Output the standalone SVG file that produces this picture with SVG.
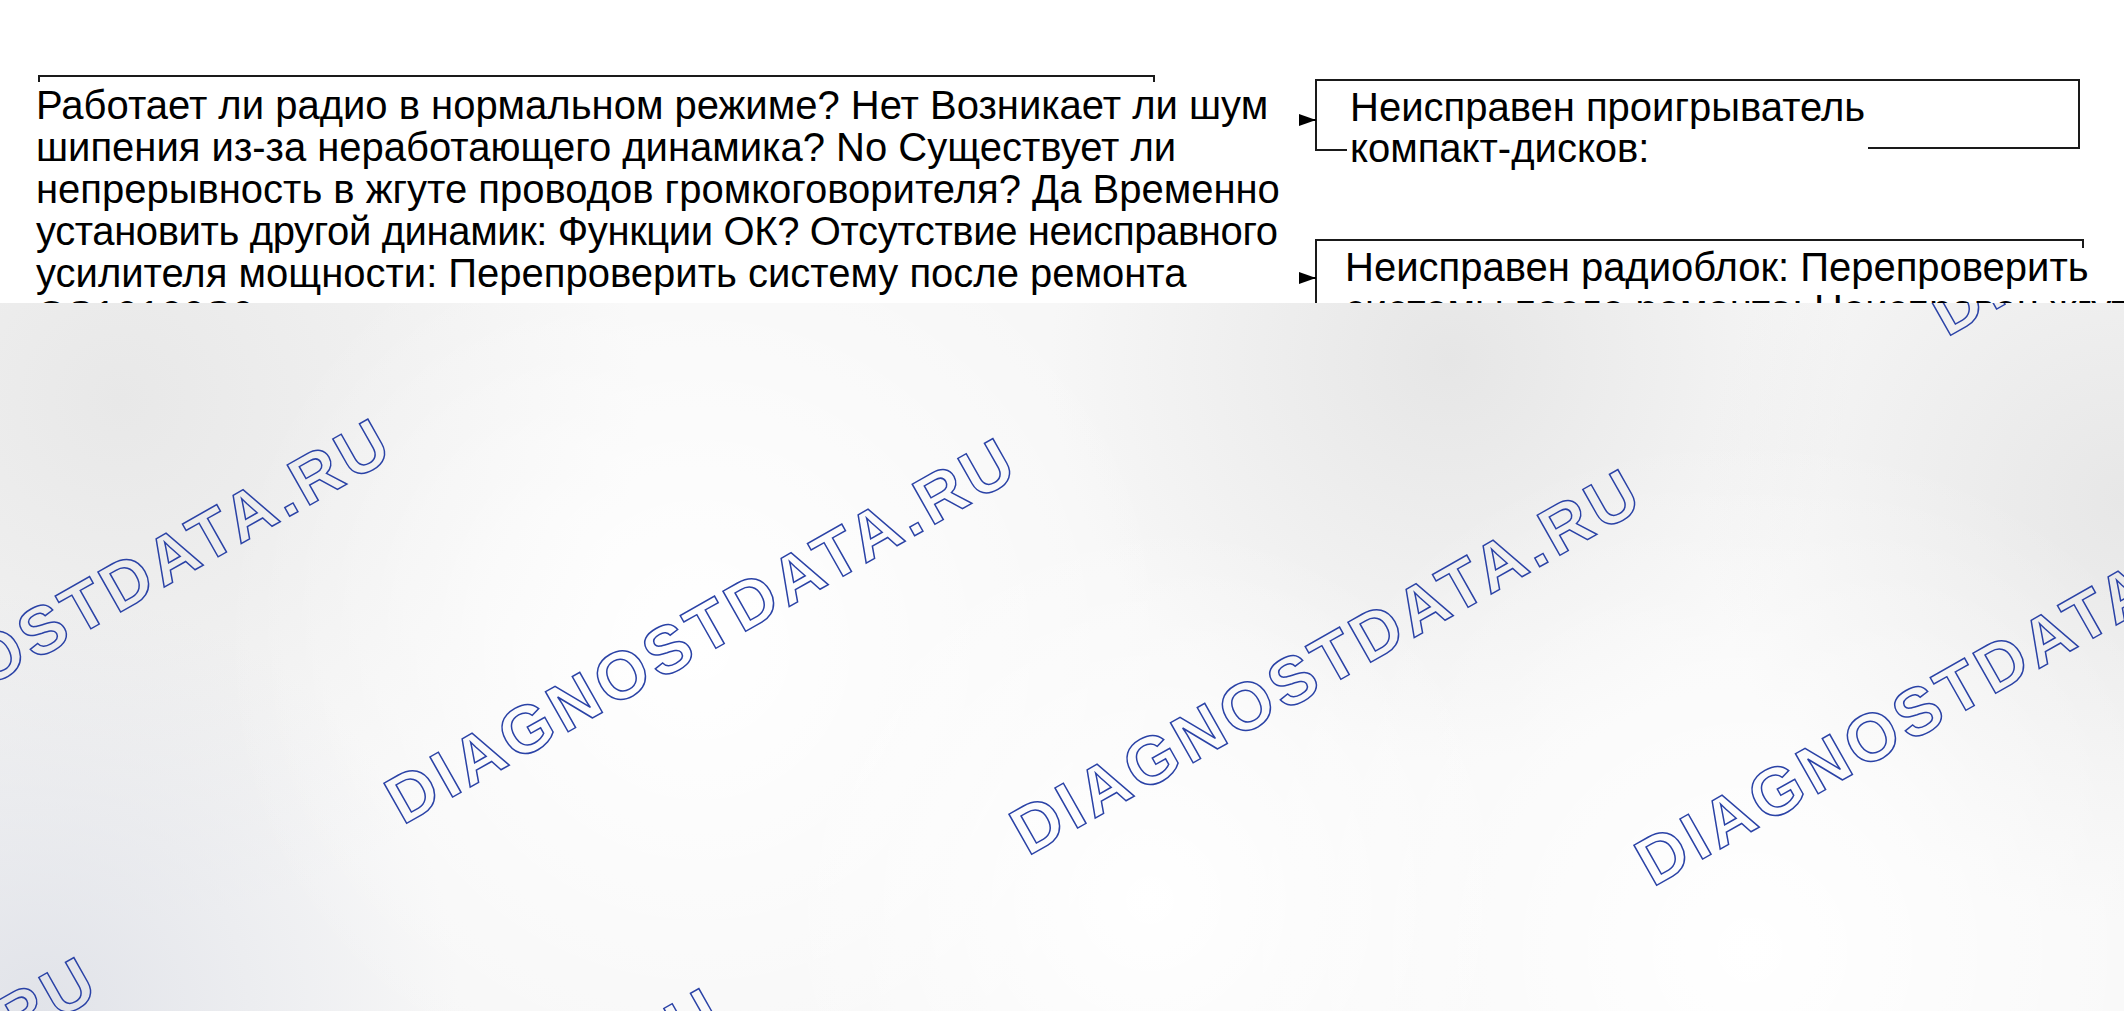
<svg xmlns="http://www.w3.org/2000/svg" width="2124" height="1011" viewBox="0 0 2124 1011">
<defs>
<style>
.t{font-family:"Liberation Sans",Arial,sans-serif;font-size:40px;fill:#000}
.wm{font-family:"Liberation Sans",Arial,sans-serif;font-weight:bold;font-size:67px;letter-spacing:4.5px;fill:none;stroke:#2a42a6;stroke-width:1.5}
.ln{stroke:#1a1a1a;stroke-width:2;fill:none}
</style>
<marker id="ah" markerUnits="userSpaceOnUse" markerWidth="18" markerHeight="14" refX="17" refY="7" orient="auto">
<path d="M0,1 L17,7 L0,13 Z" fill="#000"/>
</marker>
<clipPath id="topc"><rect x="0" y="0" width="2124" height="303"/></clipPath>
<clipPath id="botc"><rect x="0" y="303" width="2124" height="708"/></clipPath>
<radialGradient id="g1" gradientUnits="userSpaceOnUse" cx="120" cy="400" r="520"><stop offset="0" stop-color="#e8e8e8"/><stop offset="1" stop-color="#e8e8e8" stop-opacity="0"/></radialGradient>
<radialGradient id="g2" gradientUnits="userSpaceOnUse" cx="1450" cy="360" r="400"><stop offset="0" stop-color="#e6e6e6"/><stop offset="1" stop-color="#e6e6e6" stop-opacity="0"/></radialGradient>
<radialGradient id="g3" gradientUnits="userSpaceOnUse" cx="2124" cy="500" r="420"><stop offset="0" stop-color="#e7e7e7"/><stop offset="1" stop-color="#e7e7e7" stop-opacity="0"/></radialGradient>
<radialGradient id="g4" gradientUnits="userSpaceOnUse" cx="40" cy="1011" r="420"><stop offset="0" stop-color="#e1e3e9"/><stop offset="1" stop-color="#e1e3e9" stop-opacity="0"/></radialGradient>
<radialGradient id="w1" gradientUnits="userSpaceOnUse" cx="700" cy="650" r="480"><stop offset="0" stop-color="#ffffff"/><stop offset="1" stop-color="#ffffff" stop-opacity="0"/></radialGradient>
<radialGradient id="w2" gradientUnits="userSpaceOnUse" cx="1750" cy="950" r="520"><stop offset="0" stop-color="#ffffff"/><stop offset="1" stop-color="#ffffff" stop-opacity="0"/></radialGradient>
<radialGradient id="w3" gradientUnits="userSpaceOnUse" cx="1150" cy="900" r="380"><stop offset="0" stop-color="#ffffff"/><stop offset="1" stop-color="#ffffff" stop-opacity="0"/></radialGradient>
</defs>
<rect x="0" y="0" width="2124" height="1011" fill="#ffffff"/>
<g id="watermark-background" clip-path="url(#botc)">
<rect x="0" y="303" width="2124" height="708" fill="#f7f7f7"/>
<rect x="0" y="303" width="2124" height="708" fill="url(#g1)"/>
<rect x="0" y="303" width="2124" height="708" fill="url(#g2)"/>
<rect x="0" y="303" width="2124" height="708" fill="url(#g3)"/>
<rect x="0" y="303" width="2124" height="708" fill="url(#g4)"/>
<rect x="0" y="303" width="2124" height="708" fill="url(#w1)"/>
<rect x="0" y="303" width="2124" height="708" fill="url(#w2)"/>
<rect x="0" y="303" width="2124" height="708" fill="url(#w3)"/>
<text class="wm" transform="translate(-222.3,806) rotate(-29.5)">DIAGNOSTDATA.RU</text>
<text class="wm" transform="translate(402.7,825.4) rotate(-29.5)">DIAGNOSTDATA.RU</text>
<text class="wm" transform="translate(1027.7,856.4) rotate(-29.5)">DIAGNOSTDATA.RU</text>
<text class="wm" transform="translate(1652.7,887.4) rotate(-29.5)">DIAGNOSTDATA.RU</text>
<text class="wm" transform="translate(1946.7,337.4) rotate(-29.5)">DIAGNOSTDATA.RU</text>
<text class="wm" transform="translate(-516.3,1344.4) rotate(-29.5)">DIAGNOSTDATA.RU</text>
<text class="wm" transform="translate(108.7,1375.4) rotate(-29.5)">DIAGNOSTDATA.RU</text>
</g>
<g id="diagram" clip-path="url(#topc)">
<g id="node-question">
<path class="ln" d="M39,82 V76 H1154 V82"/>
<text class="t" x="36" y="119">Работает ли радио в нормальном режиме? Нет Возникает ли шум</text>
<text class="t" x="36" y="161">шипения из-за неработающего динамика? No Существует ли</text>
<text class="t" x="36" y="203">непрерывность в жгуте проводов громкоговорителя? Да Временно</text>
<text class="t" x="36" y="245" textLength="1242">установить другой динамик: Функции ОК? Отсутствие неисправного</text>
<text class="t" x="36" y="287">усилителя мощности: Перепроверить систему после ремонта</text>
<text class="t" x="36" y="329">OS10100S0</text>
</g>
<g id="node-cd-player">
<path class="ln" d="M1347,150 H1316 V80 H2079 V148 H1868"/>
<text class="t" x="1350" y="121">Неисправен проигрыватель</text>
<text class="t" x="1350" y="162">компакт-дисков:</text>
</g>
<g id="node-radio-unit">
<path class="ln" d="M1316,303 V240 H2083 V248"/>
<text class="t" x="1345" y="281">Неисправен радиоблок: Перепроверить</text>
<text class="t" x="1345" y="323">системы после ремонта: Неисправен жгут</text>
</g>
<g id="connectors">
<path d="M1300,120 H1316" stroke="#000" stroke-width="2" marker-end="url(#ah)"/>
<path d="M1300,278 H1316" stroke="#000" stroke-width="2" marker-end="url(#ah)"/>
</g>
</g>
</svg>
